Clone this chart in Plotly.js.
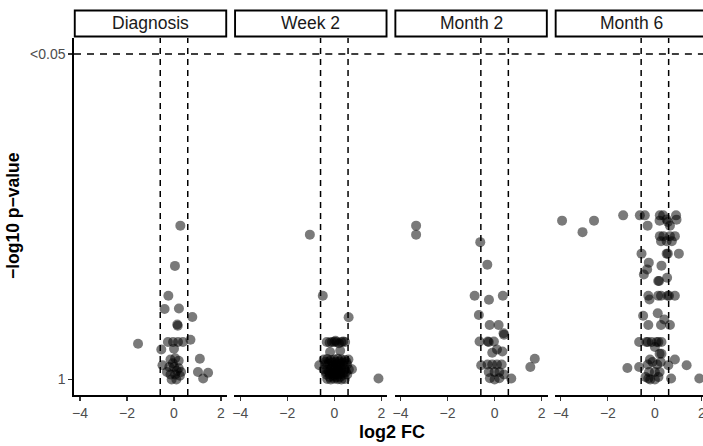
<!DOCTYPE html>
<html>
<head>
<meta charset="utf-8">
<script src="https://cdn.plot.ly/plotly-3.0.1.min.js"></script>
<style>
html, body { margin: 0; padding: 0; overflow: hidden; background: #fff; }
#chart { width: 716px; height: 446px; }
</style>
</head>
<body>
<div id="chart"></div>
<script>
// ---- data (log2 fold change, -log10 p-value) ----
const panelNames = ["Diagnosis", "Week 2", "Month 2", "Month 6"];

const diagX = [0.27, 0.04, -0.24, -0.40, 0.21, 0.78, 0.16, 0.14, -1.53, -0.54, -0.26, -0.04, 0.17, 0.38, 0.70, 0.00, 1.10, 1.02, 1.45, 1.24, -0.49,
  -0.15, 0.05, 0.20, -0.20, 0.00, 0.20, -0.15, 0.05, 0.25, -0.10, 0.10, -0.30, 0.30, -0.05, 0.12];
const diagY = [0.615, 0.454, 0.335, 0.282, 0.284, 0.250, 0.215, 0.220, 0.143, 0.120, 0.150, 0.150, 0.150, 0.150, 0.159, 0.123, 0.083, 0.030, 0.027, 0.004, 0.057,
  0.080, 0.085, 0.075, 0.050, 0.050, 0.045, 0.020, 0.020, 0.015, 0.000, 0.000, 0.030, 0.030, 0.065, 0.035];

const week2X = [-1.04, -0.49, 0.61, 1.88, -0.64, 0.75, -0.18, 0.25,
  -0.32, -0.10, 0.10, 0.30, 0.46, 0.05, 0.20, -0.20, 0.38, 0.00,
  -0.45, -0.30, -0.15, 0.00, 0.15, 0.30, 0.45, 0.60,
  -0.40, -0.25, -0.05, 0.10, 0.25, 0.40, 0.55,
  -0.45, -0.30, -0.15, 0.00, 0.15, 0.30, 0.45, 0.62,
  -0.35, -0.20, -0.05, 0.10, 0.25, 0.40, 0.55,
  -0.30, -0.15, 0.00, 0.15, 0.30, 0.45,
  -0.38, -0.22, -0.08, 0.07, 0.22, 0.37, 0.52,
  -0.36, -0.22, -0.07, 0.08, 0.23, 0.38, 0.50,
  -0.20, -0.05, 0.10, 0.25, 0.05, -0.10, 0.20];
const week2Y = [0.579, 0.335, 0.249, 0.004, 0.057, 0.041, 0.110, 0.115,
  0.150, 0.150, 0.150, 0.150, 0.150, 0.155, 0.145, 0.148, 0.152, 0.150,
  0.080, 0.082, 0.078, 0.080, 0.083, 0.080, 0.078, 0.080,
  0.060, 0.062, 0.058, 0.060, 0.061, 0.058, 0.060,
  0.040, 0.038, 0.042, 0.040, 0.039, 0.041, 0.040, 0.040,
  0.020, 0.022, 0.018, 0.020, 0.021, 0.019, 0.020,
  0.002, 0.000, 0.003, 0.001, 0.000, 0.002,
  0.070, 0.071, 0.069, 0.070, 0.072, 0.068, 0.070,
  0.030, 0.031, 0.029, 0.030, 0.032, 0.028, 0.030,
  0.010, 0.011, 0.009, 0.010, 0.050, 0.050, 0.050];

const month2X = [-3.34, -3.34, -0.61, -0.31, -0.85, -0.24, 0.35, -0.67, -0.21, 0.17, 0.40, 0.38, -0.64, -0.29, -0.25, -0.03, -0.10, 0.33, 0.10, 1.71, 1.52, -0.57, 0.71,
  -0.30, -0.10, 0.10, 0.30, -0.25, 0.00, 0.20, -0.20, 0.00, 0.20, 0.40];
const month2Y = [0.615, 0.579, 0.549, 0.459, 0.335, 0.319, 0.335, 0.258, 0.218, 0.218, 0.179, 0.185, 0.152, 0.152, 0.150, 0.152, 0.107, 0.112, 0.120, 0.083, 0.050, 0.057, 0.004,
  0.060, 0.060, 0.060, 0.060, 0.030, 0.030, 0.030, 0.005, 0.000, 0.005, 0.020];

const month6X = [-3.95, -2.59, -3.08, -1.35, -0.64, -0.43, 0.21, 0.35, 0.90, 0.50, 0.55, 0.92, -0.31, 0.64, 0.20,
  0.21, 0.36, 0.64, 0.85, 0.26, 0.72, 0.50,
  -0.57, 0.50, 0.55, 1.02, -0.26, 0.28, -0.33, -0.47, 0.52, 0.14, 0.18,
  -0.28, 0.14, 0.26, 0.54, 0.85, 0.60, -0.23,
  -0.50, 0.12, 0.40, -0.28, 0.26, 0.64,
  -0.67, -0.36, -0.14, 0.07, 0.28, -0.30, 0.15, 0.00, 0.20, 0.28,
  -0.21, 0.85, 1.35, 0.57, -1.17, 1.89, 0.69, -0.28, -0.67,
  -0.30, -0.10, 0.10, 0.25, -0.25, 0.00, 0.20, -0.20, 0.00, 0.15, -0.40];
const month6Y = [0.635, 0.635, 0.589, 0.656, 0.656, 0.656, 0.656, 0.656, 0.656, 0.640, 0.630, 0.639, 0.615, 0.615, 0.635,
  0.573, 0.573, 0.573, 0.573, 0.553, 0.553, 0.553,
  0.503, 0.503, 0.503, 0.503, 0.467, 0.455, 0.440, 0.420, 0.407, 0.394, 0.394,
  0.335, 0.335, 0.335, 0.335, 0.335, 0.335, 0.320,
  0.255, 0.265, 0.240, 0.218, 0.218, 0.218,
  0.150, 0.150, 0.150, 0.150, 0.150, 0.150, 0.150, 0.130, 0.103, 0.103,
  0.080, 0.080, 0.057, 0.057, 0.046, 0.004, 0.004, 0.004, 0.050,
  0.060, 0.070, 0.060, 0.070, 0.030, 0.030, 0.030, 0.000, 0.000, 0.010, 0.010];

const xTickVals = [-4, -2, 0, 2];
const yTickVals = [0, 1.30103];
const yTickText = ["1", "<0.05"];
const fcCut = 0.585;
const pCut = 1.30103;

// ---- layout helpers ----
const W = 716, H = 446;
const mL = 74, mR = W - 708, mT = 38, mB = H - 395;
const plotW = W - mL - mR, plotH = H - mT - mB;
const panelW = 153, step = 160.3;
const pyToPaper = py => (H - mB - py) / plotH;
const pxToPaper = px => (px - mL) / plotW;

const seriesX = [diagX, week2X, month2X, month6X];
const seriesY = [diagY, week2Y, month2Y, month6Y];

const font = "Liberation Sans, Arial, Helvetica, sans-serif";
const tickFont = {size: 14, color: "#4d4d4d", family: font};
const traces = [];
const layout = {
  width: W, height: H,
  margin: {l: mL, r: mR, t: mT, b: mB},
  paper_bgcolor: "#fff", plot_bgcolor: "#fff",
  showlegend: false,
  font: {family: font},
  shapes: [], annotations: [],
  yaxis: {
    range: [-0.062, 1.365], domain: [0, 1],
    tickvals: yTickVals, ticktext: yTickText,
    tickfont: tickFont,
    ticks: "outside", ticklen: 4, tickcolor: "#333", tickwidth: 1.1,
    showline: true, linecolor: "#000", linewidth: 1.7,
    showgrid: false, zeroline: false, anchor: "x", fixedrange: true
  }
};

panelNames.forEach((name, i) => {
  const ax = i === 0 ? "x" : "x" + (i + 1);
  const axKey = i === 0 ? "xaxis" : "xaxis" + (i + 1);
  traces.push({
    type: "scatter", mode: "markers",
    x: seriesX[i], y: seriesY[i],
    xaxis: ax, yaxis: "y",
    marker: {size: 10, color: "rgba(0,0,0,0.52)", line: {width: 0}},
    hoverinfo: "skip"
  });
  const d0 = (i * step) / plotW, d1 = (i * step + panelW) / plotW;
  layout[axKey] = {
    domain: [d0, Math.min(d1, 1)],
    range: [-4.255, 2.255],
    tickvals: xTickVals,
    tickfont: tickFont,
    ticks: "outside", ticklen: 4, tickcolor: "#333", tickwidth: 1.1,
    showline: true, linecolor: "#000", linewidth: 1.7,
    showgrid: false, zeroline: false, anchor: "y", fixedrange: true
  };
  // threshold lines
  [-fcCut, fcCut].forEach(v => layout.shapes.push({
    type: "line", xref: ax, yref: "paper", x0: v, x1: v, y0: 0, y1: 1,
    line: {color: "#000", width: 1.5, dash: "6px,5px"}
  }));
  layout.shapes.push({
    type: "line", xref: ax + " domain", yref: "y", x0: 0, x1: 1, y0: pCut, y1: pCut,
    line: {color: "#000", width: 1.5, dash: "7px,6px"}
  });
  // strip
  layout.shapes.push({
    type: "rect", xref: ax + " domain", yref: "paper", x0: 0.005, x1: 0.995,
    y0: pyToPaper(36.5), y1: pyToPaper(10.5),
    line: {color: "#000", width: 1.9}, fillcolor: "#fff"
  });
  layout.annotations.push({
    xref: ax + " domain", yref: "paper", x: 0.5, y: pyToPaper(23.5),
    text: name, showarrow: false, xanchor: "center", yanchor: "middle",
    font: {size: 17.5, color: "#1a1a1a", family: font}
  });
});

layout.annotations.push({
  xref: "paper", yref: "paper", x: pxToPaper(392), y: pyToPaper(432),
  text: "<b>log2 FC</b>", showarrow: false, xanchor: "center", yanchor: "middle",
  font: {size: 18, color: "#000", family: font}
});
layout.annotations.push({
  xref: "paper", yref: "paper", x: pxToPaper(13), y: pyToPaper(216),
  text: "<b>\u2212log10 p\u2212value</b>", showarrow: false, textangle: -90,
  xanchor: "center", yanchor: "middle",
  font: {size: 17.5, color: "#000", family: font}
});

Plotly.newPlot("chart", traces, layout, {displayModeBar: false, staticPlot: true});
</script>
</body>
</html>
